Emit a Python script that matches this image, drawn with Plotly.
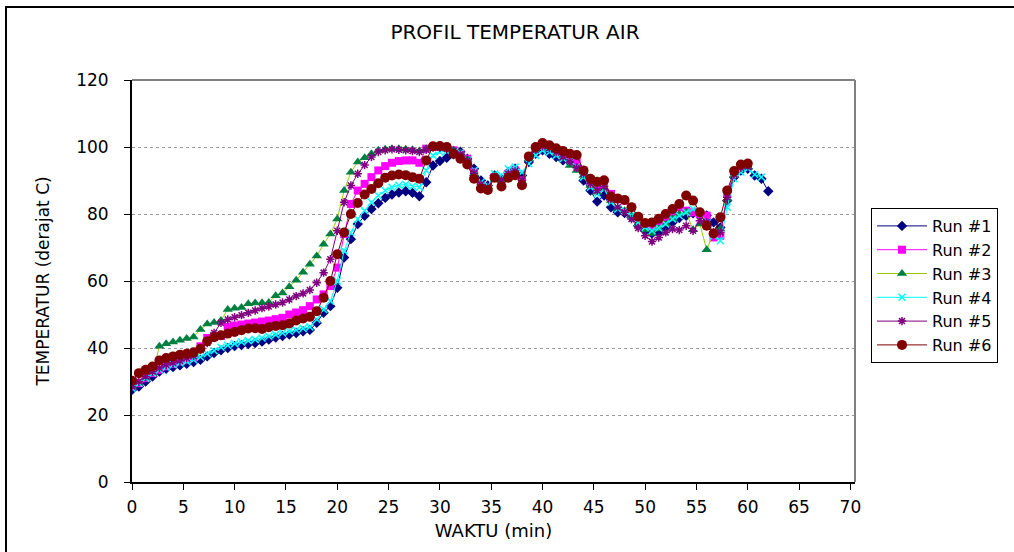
import plotly.graph_objects as go

# WAKTU (min)
waktu = [0.0, 0.67, 1.33, 2.0, 2.67, 3.33, 4.0, 4.67, 5.33, 6.0,
         6.67, 7.33, 8.0, 8.67, 9.33, 10.0, 10.67, 11.33, 12.0, 12.67,
         13.33, 14.0, 14.67, 15.33, 16.0, 16.67, 17.33, 18.0, 18.67, 19.33,
         20.0, 20.67, 21.33, 22.0, 22.67, 23.33, 24.0, 24.67, 25.33, 26.0,
         26.67, 27.33, 28.0, 28.67, 29.33, 30.0, 30.67, 31.33, 32.0, 32.67,
         33.33, 34.0, 34.67, 35.33, 36.0, 36.67, 37.33, 38.0, 38.67, 39.33,
         40.0, 40.67, 41.33, 42.0, 42.67, 43.33, 44.0, 44.67, 45.33, 46.0,
         46.67, 47.33, 48.0, 48.67, 49.33, 50.0, 50.67, 51.33, 52.0, 52.67,
         53.33, 54.0, 54.67, 55.33, 56.0, 56.67, 57.33, 58.0, 58.67, 59.33,
         60.0, 60.67, 61.33, 62.0]

run1 = [27.5, 28.5, 30.0, 31.5, 33.0, 33.8, 34.3, 34.8, 35.3, 35.8,
        36.5, 37.5, 38.5, 39.3, 40.0, 40.6, 40.9, 41.2, 41.5, 41.9,
        42.5, 43.1, 43.6, 44.0, 44.5, 45.0, 45.4, 47.5, 50.5, 52.5,
        58.0, 67.0, 72.5, 77.0, 79.5, 81.5, 83.2, 84.8, 85.8, 86.4,
        86.8, 86.3, 85.3, 89.5, 94.5, 95.8, 96.8, 97.8, 98.6, 96.5,
        93.5, 90.0, 88.5, 91.5, 90.5, 92.5, 93.5, 91.5, 95.5, 98.0,
        99.0, 98.0, 97.0, 96.0, 95.5, 94.5, 90.0, 87.0, 83.7, 85.5,
        82.0, 80.5, 80.3, 79.0, 76.5, 75.0, 74.2, 74.5, 76.0, 77.5,
        78.8, 79.5, 80.2, 79.8, 79.6, 77.5, 76.0, 84.0, 91.0, 93.0,
        93.5, 91.5, 90.5, 86.8]

run2 = [28.5, 29.5, 31.0, 32.5, 33.5, 34.5, 35.3, 36.0, 36.5, 37.2,
        40.5, 43.0, 43.3, 43.6, 46.3, 46.7, 47.0, 47.3, 47.6, 47.9,
        48.2, 48.6, 49.0, 50.0, 50.6, 51.3, 52.5, 54.5, 56.0, 58.5,
        64.0, 74.0, 83.0, 87.0, 89.0, 91.0, 93.0, 94.3, 95.3, 95.8,
        96.0, 96.0, 95.3, 99.5, 100.0, 100.0, 99.8, 99.0, 98.0, 96.5,
        92.5, 88.5, 88.0, 91.0, 90.0, 92.0, 93.0, 90.0, 97.0, 99.5,
        100.5, 100.0, 99.0, 98.0, 97.0, 95.5, 93.0, 90.0, 88.5, 89.5,
        86.0, 84.5, 84.0, 82.0, 79.0, 77.0, 76.5, 77.5, 79.0, 80.5,
        82.0, 81.0, 80.5, 80.0, 79.5, 73.0, 73.5, 86.0, 92.0, 94.0,
        94.5]

run3 = [28.5, 29.5, 31.0, 32.5, 40.5, 41.3, 41.8, 42.3, 42.8, 43.3,
        45.5, 47.2, 47.6, 48.2, 51.5, 51.9, 52.1, 53.2, 53.4, 53.5,
        53.6, 55.6, 56.4, 58.3, 60.2, 62.6, 65.0, 67.5, 71.0, 74.0,
        78.5, 87.0, 92.5, 95.5, 96.8, 98.0, 99.0, 99.3, 99.5, 99.5,
        99.3, 99.2, 98.8, 99.5, 100.0, 100.0, 99.7, 99.0, 98.2, 96.3,
        92.0, 88.5, 88.2, 91.2, 90.0, 91.8, 92.5, 89.5, 96.5, 99.0,
        100.0, 99.5, 98.2, 96.5, 94.5, 93.0, 91.5, 88.5, 86.5, 87.5,
        84.0, 81.5, 81.0, 79.5, 77.0, 75.3, 74.2, 75.5, 77.0, 78.5,
        80.0, 80.5, 75.3, 77.0, 69.3, 74.5, 75.5, 84.5, 91.5, 93.5,
        94.0]

run4 = [28.0, 29.5, 31.0, 32.5, 33.5, 34.3, 35.0, 35.5, 36.0, 36.5,
        37.3, 38.3, 39.2, 40.2, 40.8, 41.3, 41.8, 42.2, 42.5, 43.0,
        43.5, 44.0, 44.5, 45.0, 45.4, 45.8, 46.3, 48.5, 51.5, 54.0,
        60.0, 69.0, 74.5, 78.5, 81.0, 83.5, 85.5, 87.0, 88.0, 88.6,
        88.8, 88.3, 88.0, 93.0, 97.5, 98.5, 98.8, 98.6, 98.2, 96.0,
        93.0, 89.5, 88.5, 92.0, 91.5, 93.5, 94.0, 92.5, 95.0, 97.5,
        99.0, 98.5, 97.5, 96.5, 95.5, 94.0, 91.0, 88.0, 86.0, 87.5,
        83.5, 81.5, 81.0, 79.5, 77.5, 76.0, 75.0, 75.8, 77.0, 78.5,
        79.5, 80.5, 81.5, 80.5, 77.5, 73.5, 72.0, 82.0, 90.5, 92.5,
        93.5, 91.8, 91.0]

run5 = [28.5, 30.0, 31.5, 33.0, 34.0, 35.0, 35.6, 36.2, 37.0, 37.6,
        39.5, 41.5, 44.5, 47.5, 48.5, 49.2, 49.8, 50.5, 51.2, 51.9,
        52.4, 53.0, 53.6, 54.5, 55.5, 56.3, 57.3, 59.5, 62.5, 66.5,
        75.0, 83.5, 88.5, 92.0, 94.6, 97.0, 98.5, 99.0, 99.3, 99.2,
        99.0, 98.8, 98.5, 99.2, 99.8, 99.8, 99.5, 98.8, 97.8, 96.0,
        92.2, 88.8, 88.0, 91.0, 90.2, 92.0, 92.8, 90.0, 96.8, 99.2,
        100.2, 99.6, 98.5, 97.0, 95.5, 93.8, 92.0, 89.0, 87.0, 88.2,
        84.5, 82.0, 80.5, 78.5, 75.8, 73.5, 71.8, 73.0, 74.5, 75.5,
        75.2, 76.5, 75.0, 78.0, 77.5, 74.5, 74.5, 85.0, 91.8, 93.8,
        94.2]

run6 = [30.2, 32.5, 33.5, 34.5, 36.3, 37.0, 37.5, 38.0, 38.3, 38.7,
        39.8, 42.0, 43.2, 43.8, 44.3, 44.8, 45.3, 45.8, 45.9, 45.7,
        46.2, 46.6, 46.8, 47.3, 48.2, 48.8, 49.3, 51.0, 55.0, 60.0,
        68.0, 74.5, 80.0, 83.3, 85.8, 87.5, 89.2, 90.8, 91.5, 91.8,
        91.6, 91.0, 90.5, 96.0, 100.2, 100.3, 100.0, 98.0, 96.5, 94.8,
        90.5, 87.6, 87.2, 90.8, 88.2, 90.8, 91.6, 88.6, 97.2, 100.0,
        101.2, 100.5, 99.6, 98.8, 98.0, 97.6, 93.0, 90.5, 89.6, 90.1,
        85.2, 84.6, 84.2, 82.0, 79.2, 77.3, 77.5, 78.6, 80.0, 81.5,
        83.0, 85.5, 84.0, 80.5, 76.5, 74.2, 79.0, 87.0, 92.8, 94.8,
        95.1]

series_names = ["Run #1", "Run #2", "Run #3", "Run #4", "Run #5", "Run #6"]
series_values = [run1, run2, run3, run4, run5, run6]

styles = [
    dict(line="#000080", marker="#000080", symbol="diamond", size=8, mline=None),
    dict(line="#FF00FF", marker="#FF00FF", symbol="square", size=8, mline=None),
    dict(line="#99CC00", marker="#008040", symbol="triangle-up", size=9, mline=None),
    dict(line="#00FFFF", marker="#00FFFF", symbol="x-thin-open", size=7, mline=1.5),
    dict(line="#800080", marker="#800080", symbol="asterisk-open", size=7, mline=1.5),
    dict(line="#800000", marker="#800000", symbol="circle", size=10, mline=None),
]

fig = go.Figure()
for name, vals, st in zip(series_names, series_values, styles):
    mk = dict(symbol=st["symbol"], size=st["size"], color=st["marker"])
    if st["mline"]:
        mk["line"] = dict(color=st["marker"], width=st["mline"])
    else:
        mk["line"] = dict(width=0)
    fig.add_trace(go.Scatter(
        x=waktu[:len(vals)], y=vals, name=name, mode="lines+markers",
        line=dict(color=st["line"], width=1), marker=mk,
    ))

L, T, W, H = 132, 80, 1014, 552
PR, PB = 855, 482
pw, ph = PR - L, PB - T

def px(x):
    return (x - L) / pw

def py(y):
    return (PB - y) / ph

FONT = "DejaVu Sans, Liberation Sans, Arial, sans-serif"

fig.update_layout(
    width=W, height=H,
    margin=dict(l=L, r=W - PR, t=T, b=H - PB, pad=0),
    paper_bgcolor="white", plot_bgcolor="white",
    font=dict(family=FONT, size=17, color="black"),
    title=dict(text="PROFIL TEMPERATUR AIR", x=515 / W, xanchor="center",
               y=1 - 32 / H, yanchor="middle", font=dict(size=20)),
    showlegend=True,
    legend=dict(x=px(871), y=py(208), xanchor="left", yanchor="top",
                bordercolor="black", borderwidth=1, bgcolor="white",
                font=dict(size=16), tracegroupgap=0, itemwidth=50),
    shapes=[
        dict(type="rect", xref="paper", yref="paper",
             x0=px(6), x1=px(1030), y0=py(570), y1=py(7),
             line=dict(color="black", width=2), fillcolor="rgba(0,0,0,0)", layer="below"),
        dict(type="line", xref="paper", yref="paper", x0=0, x1=1, y0=1, y1=1,
             line=dict(color="#808080", width=2)),
        dict(type="line", xref="paper", yref="paper", x0=1, x1=1, y0=0, y1=1,
             line=dict(color="#808080", width=2)),
    ],
)

fig.update_xaxes(
    range=[0, 70.45], tickmode="array", tickvals=list(range(0, 75, 5)),
    showline=True, linecolor="black", linewidth=2, mirror=False,
    ticks="outside", ticklen=6, tickcolor="black", tickwidth=1,
    showgrid=False, zeroline=False,
    title=dict(text="WAKTU (min)", font=dict(size=18), standoff=8),
    tickfont=dict(size=17), ticklabelstandoff=3,
)
fig.update_yaxes(
    range=[0, 120], tickmode="array", tickvals=list(range(0, 140, 20)),
    showline=True, linecolor="black", linewidth=2, mirror=False,
    ticks="outside", ticklen=6, tickcolor="black", tickwidth=1,
    showgrid=True, gridcolor="#9a9a9a", gridwidth=1, griddash="dot",
    zeroline=False,
    title=dict(text="TEMPERATUR (derajat C)", font=dict(size=17), standoff=22),
    tickfont=dict(size=17), ticklabelstandoff=12,
)

fig.write_html("out.html")
